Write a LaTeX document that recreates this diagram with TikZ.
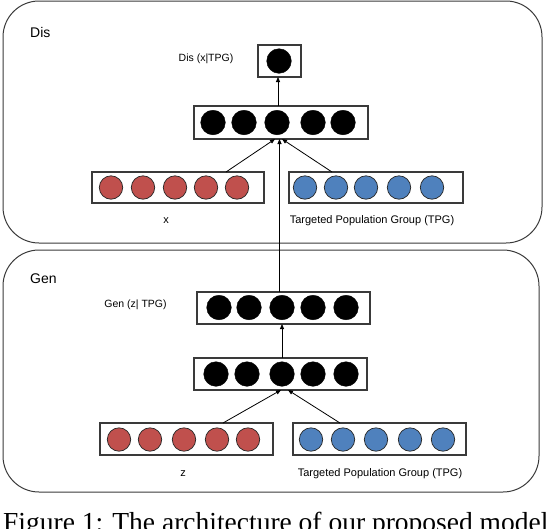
\documentclass[tikz,border=0pt]{standalone}
\usepackage{fontspec}
\setmainfont{Liberation Sans}
\newfontfamily\capfont{Liberation Serif}
\usetikzlibrary{arrows.meta}
\definecolor{redc}{HTML}{C0504D}
\definecolor{bluec}{HTML}{4F81BD}
\definecolor{edgec}{HTML}{3A3A3A}
\begin{document}
\begin{tikzpicture}[x=1pt,y=-1pt,
  outerbox/.style={draw=edgec,line width=1pt,rounded corners=36pt},
  layerbox/.style={draw=edgec,line width=1.1pt,fill=white,inner sep=0pt,outer sep=0pt},
  bcirc/.style={circle,fill=black,draw=black,inner sep=0pt,minimum size=24.6pt},
  rcirc/.style={circle,fill=redc,draw=black!85,line width=0.7pt,inner sep=0pt,minimum size=23.4pt},
  ucirc/.style={circle,fill=bluec,draw=black!85,line width=0.7pt,inner sep=0pt,minimum size=23.4pt},
  arr/.style={-{Triangle[length=5pt,width=4pt]},line width=0.8pt},
  big/.style={font=\fontsize{14}{16}\selectfont,anchor=west,inner sep=0pt},
  small/.style={font=\fontsize{10.5}{12}\selectfont,inner sep=0pt},
  lab/.style={font=\fontsize{11}{13}\selectfont,inner sep=0pt}]
\clip (0,0) rectangle (546,528);
\useasboundingbox (0,0) rectangle (546,528);
% outer frames
\draw[outerbox] (3,1) rectangle (542,243);
\draw[outerbox] (3,250) rectangle (539,492);
\node[big] (dislab) at (30,32) {Dis};
\node[big] (genlab) at (30,279) {Gen};
% ---- Discriminator ----
\node[layerbox,minimum width=43pt,minimum height=32pt] (dout) at (279.5,61) {};
\node[bcirc] (dout1) at (279,61) {};
\node[small] (doutlab) at (206,59) {Dis (x|TPG)};
\node[layerbox,minimum width=174pt,minimum height=33pt] (dh) at (281,122.5) {};
\foreach \x [count=\i] in {213,244,277,313,343} \node[bcirc] (dh\i) at (\x,122.5) {};
\node[layerbox,minimum width=172pt,minimum height=31pt] (dr) at (178,187.5) {};
\foreach \x [count=\i] in {111,143,175,206,237} \node[rcirc] (dr\i) at (\x,187.5) {};
\node[layerbox,minimum width=174pt,minimum height=31pt] (db) at (376,187.5) {};
\foreach \x [count=\i] in {305,336,366,399,432} \node[ucirc] (db\i) at (\x,187.5) {};
\node[lab] (xlab) at (166,221) {x};
\node[lab] (dtpg) at (372,221) {Targeted Population Group (TPG)};
% ---- Generator ----
\node[layerbox,minimum width=173pt,minimum height=32pt] (go) at (283.5,308) {};
\foreach \x [count=\i] in {219,249,282,313,346} \node[bcirc] (go\i) at (\x,307.5) {};
\node[small] (golab) at (135.5,305) {Gen (z| TPG)};
\node[layerbox,minimum width=173pt,minimum height=32pt] (gh) at (280.5,374) {};
\foreach \x [count=\i] in {216,247,282,313,346} \node[bcirc] (gh\i) at (\x,374) {};
\node[layerbox,minimum width=173pt,minimum height=32pt] (gr) at (186.5,439) {};
\foreach \x [count=\i] in {119,150,184,217,248} \node[rcirc] (gr\i) at (\x,439.5) {};
\node[layerbox,minimum width=173pt,minimum height=32pt] (gb) at (379.5,439) {};
\foreach \x [count=\i] in {311,343,376,410,443} \node[ucirc] (gb\i) at (\x,439.5) {};
\node[lab] (zlab) at (183,474) {z};
\node[lab] (gtpg) at (380,474) {Targeted Population Group (TPG)};
% ---- connectors ----
\draw[arr] ([xshift=-3pt]dh.north) -- ([xshift=-1.5pt]dout.south);
\draw[arr] ([xshift=48pt]dr.north) -- ([xshift=-6pt]dh.south);
\draw[arr] ([xshift=-44pt]db.north) -- ([xshift=1pt]dh.south);
\draw[arr] ([xshift=-4pt]go.north) -- ([xshift=-1.5pt]dh.south);
\draw[arr] ([xshift=1.5pt]gh.north) -- ([xshift=-1.5pt]go.south);
\draw[arr] ([xshift=36.5pt]gr.north) -- ([xshift=0.5pt]gh.south);
\draw[arr] ([xshift=-39.5pt]gb.north) -- ([xshift=7.5pt]gh.south);
% caption
\node[font=\capfont\fontsize{27.5}{30}\selectfont,anchor=base west,inner sep=0pt] (cap) at (3,531) {Figure 1: The architecture of our proposed model};
\end{tikzpicture}
\end{document}
